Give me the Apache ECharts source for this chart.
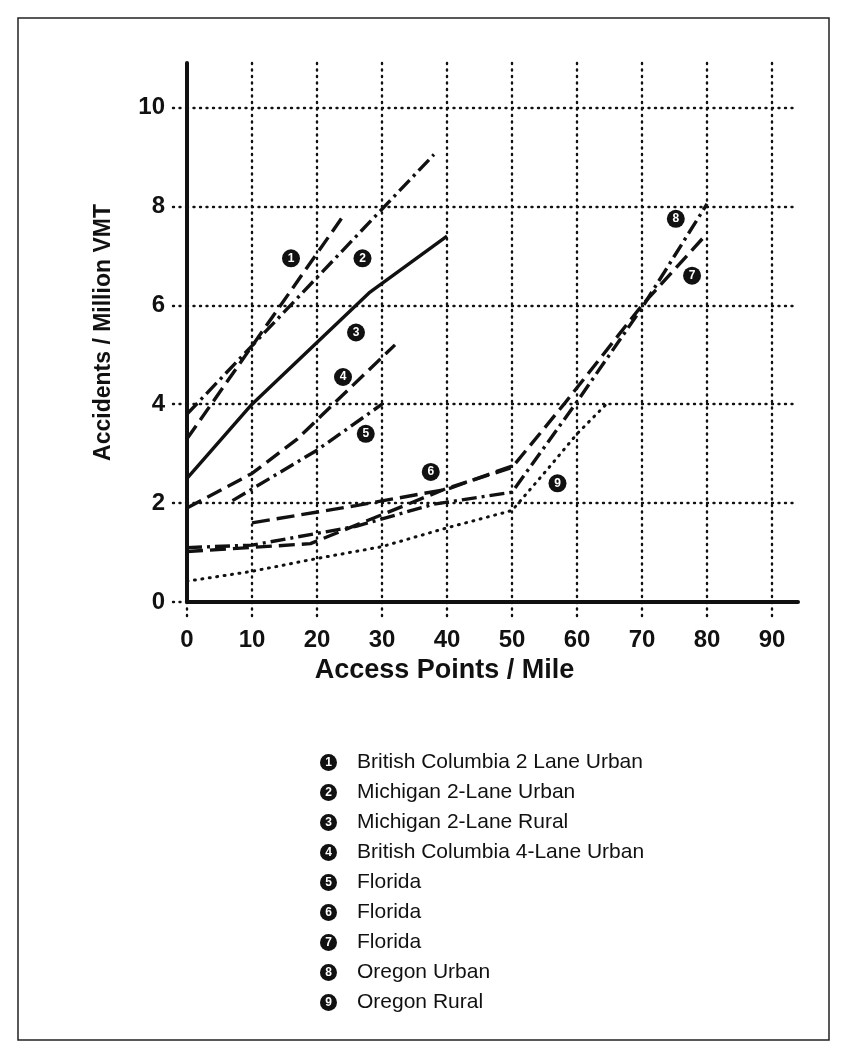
<!DOCTYPE html>
<html>
<head>
<meta charset="utf-8">
<title>Accidents / Million VMT vs Access Points / Mile</title>
<script src="https://cdn.jsdelivr.net/npm/echarts@6.0.0/dist/echarts.min.js"></script>
<style>
  html, body { margin: 0; padding: 0; background: #fff; }
  #chart { width: 846px; height: 1055px; }
</style>
</head>
<body>
<div id="chart"></div>
<script>
// ticks
const xTicks = [0, 10, 20, 30, 40, 50, 60, 70, 80, 90];
const yTicks = [0, 2, 4, 6, 8, 10];

// legend text (in order 1..9)
const legendLabels = [
    'British Columbia 2 Lane Urban',
    'Michigan 2-Lane Urban',
    'Michigan 2-Lane Rural',
    'British Columbia 4-Lane Urban',
    'Florida',
    'Florida',
    'Florida',
    'Oregon Urban',
    'Oregon Rural'
];

// curves, [access points / mile, accidents / million VMT]
const bc2LaneUrban = [[0, 3.3], [24, 7.8]];
const mich2LaneUrban = [[0, 3.8], [38, 9.05]];
const mich2LaneRural = [[0, 2.5], [10, 4.0], [28, 6.25], [40, 7.4]];
const bc4LaneUrban = [[0, 1.9], [10, 2.6], [17, 3.3], [22.5, 4.0], [32, 5.2]];
const florida5 = [[7, 2.05], [20, 3.07], [30, 4.0]];
const florida6 = [[10, 1.6], [26, 1.95], [40, 2.28], [50, 2.75]];
const florida7 = [[0, 1.02], [19, 1.18], [40, 2.3], [50, 2.72], [58, 4.0], [70, 6.0], [80, 7.45]];
const oregonUrban = [[0, 1.1], [10, 1.15], [26, 1.53], [38, 1.98], [50, 2.22], [60, 4.05], [70, 5.95], [80, 8.05]];
const oregonRural = [[0, 0.42], [10, 0.62], [20, 0.88], [30, 1.12], [40, 1.5], [50, 1.85], [55.5, 2.69], [60, 3.4], [64.5, 4.0]];

// where the circled numbers sit on the plot
const calloutPos = [[16, 6.95], [27, 6.95], [26, 5.45], [24, 4.55], [27.5, 3.4], [37.5, 2.63], [77.7, 6.6], [75.2, 7.75], [57, 2.4]];

const curves = [bc2LaneUrban, mich2LaneUrban, mich2LaneRural, bc4LaneUrban, florida5, florida6, florida7, oregonUrban, oregonRural];

const DASH = [16, 7];
const DASH_DOT = [15, 5, 3, 5];
const lineTypes = [DASH, DASH_DOT, 'solid', DASH, DASH_DOT, [18, 7], DASH, DASH_DOT, [1, 6.5]];

const INK = '#111';
const FONT = 'Liberation Sans, Arial, sans-serif';

const chart = echarts.init(document.getElementById('chart'), null, { renderer: 'canvas' });

const dotted = { color: INK, width: 2.4, type: [1, 5.5], cap: 'round' };

const series = curves.map((pts, i) => ({
    name: (i + 1) + '|' + legendLabels[i],
    type: 'line',
    data: pts,
    symbol: 'none',
    silent: true,
    lineStyle: {
        color: INK,
        width: i === 8 ? 3 : 3.4,
        type: lineTypes[i],
        cap: i === 8 ? 'round' : 'butt'
    },
    itemStyle: { color: INK },
    markPoint: {
        silent: true,
        symbol: 'circle',
        symbolSize: 18,
        itemStyle: { color: INK },
        label: {
            show: true,
            formatter: String(i + 1),
            color: '#fff',
            fontSize: 12,
            fontWeight: 'bold',
            fontFamily: FONT
        },
        data: [{ coord: calloutPos[i] }]
    }
}));

const option = {
    backgroundColor: '#fff',
    animation: false,
    grid: { left: 187, right: 48, top: 63, bottom: 453 },
    xAxis: {
        type: 'value',
        min: 0,
        max: 94,
        interval: 10,
        name: 'Access Points / Mile',
        nameLocation: 'middle',
        nameGap: 52,
        nameTextStyle: {
            color: INK, fontSize: 27, fontWeight: 'bold', fontFamily: FONT,
            padding: [0, 96, 0, 0]
        },
        axisLine: { show: true, lineStyle: { color: INK, width: 4 } },
        axisTick: { show: true, length: 17, customValues: xTicks, lineStyle: dotted },
        axisLabel: {
            customValues: xTicks,
            margin: 26, color: INK, fontSize: 24, fontWeight: 'bold', fontFamily: FONT
        },
        splitLine: { show: true, lineStyle: dotted }
    },
    yAxis: {
        type: 'value',
        min: 0,
        max: 10.9,
        interval: 2,
        name: 'Accidents / Million VMT',
        nameLocation: 'middle',
        nameGap: 72,
        nameTextStyle: { color: INK, fontSize: 23, fontWeight: 'bold', fontFamily: FONT },
        axisLine: { show: true, lineStyle: { color: INK, width: 4 } },
        axisTick: { show: true, length: 16, customValues: yTicks, lineStyle: dotted },
        axisLabel: {
            customValues: yTicks,
            margin: 22, color: INK, fontSize: 24, fontWeight: 'bold', fontFamily: FONT
        },
        splitLine: { show: true, lineStyle: dotted }
    },
    legend: {
        orient: 'vertical',
        left: 310,
        top: 747,
        itemGap: 9,
        itemWidth: 0,
        itemHeight: 0,
        icon: 'rect',
        selectedMode: false,
        itemStyle: { opacity: 0 },
        data: series.map(s => s.name),
        formatter: name => {
            const [num, label] = name.split('|');
            return '{c|' + num + '}{t|' + label + '}';
        },
        textStyle: {
            rich: {
                c: {
                    width: 17, height: 17, lineHeight: 17, align: 'center',
                    backgroundColor: INK, borderRadius: 9,
                    color: '#fff', fontSize: 12, fontWeight: 'bold', fontFamily: FONT
                },
                t: {
                    padding: [0, 0, 0, 20], height: 20, lineHeight: 20,
                    color: INK, fontSize: 21, fontFamily: FONT
                }
            }
        }
    },
    graphic: [{
        type: 'rect',
        silent: true,
        shape: { x: 18, y: 18, width: 811, height: 1022 },
        style: { fill: 'none', stroke: '#222', lineWidth: 1.5 }
    }],
    series: series
};

chart.setOption(option);
</script>
</body>
</html>
